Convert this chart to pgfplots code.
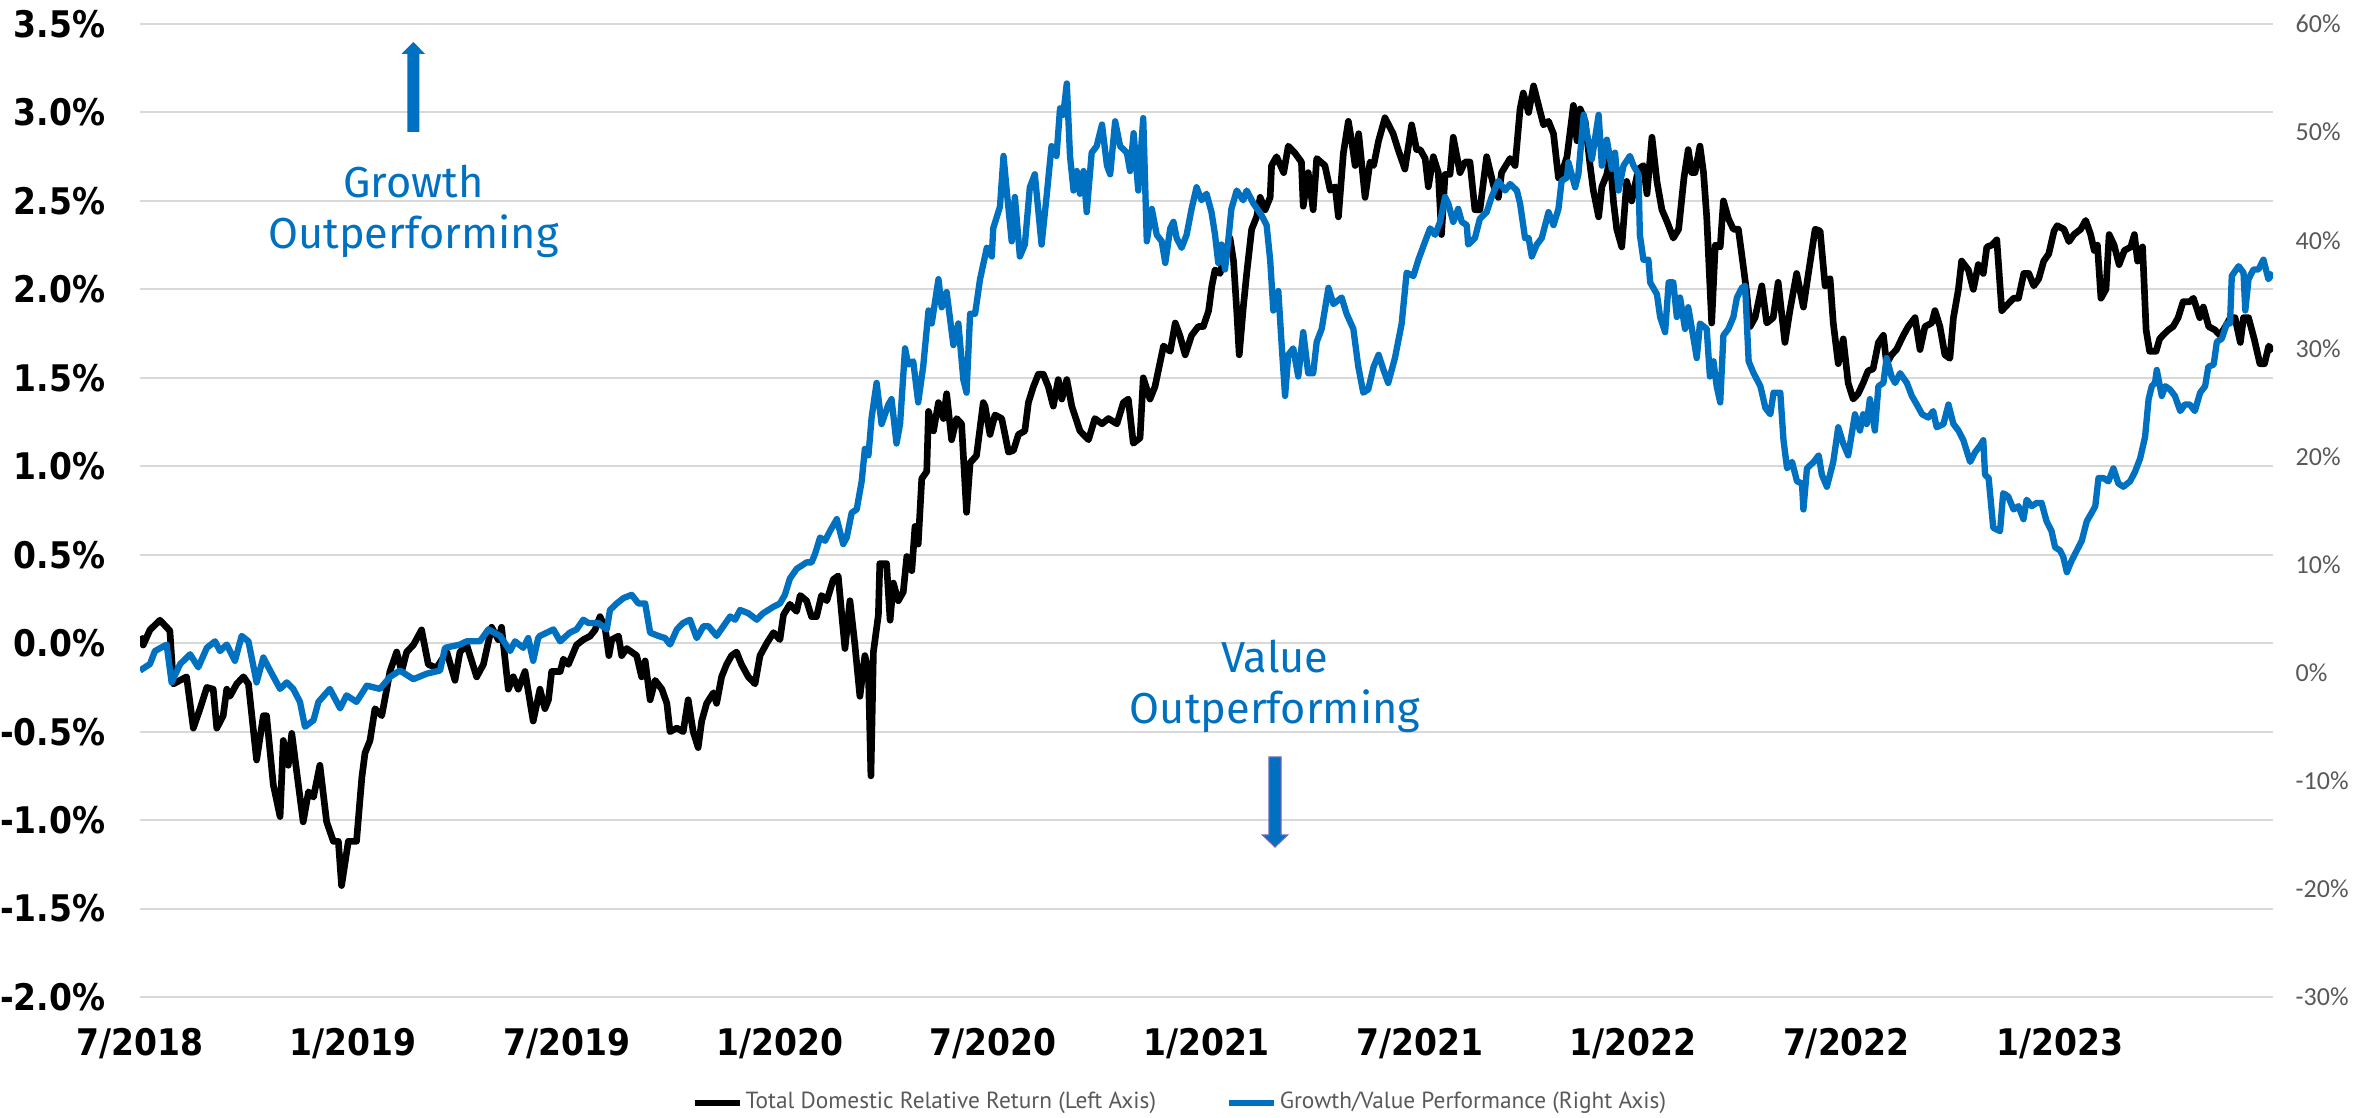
\documentclass[border=0pt]{standalone}
\usepackage{pgfplots}
\pgfplotsset{compat=1.18}
\usepackage{fontspec}
\setmainfont{DejaVu Sans}
\newfontfamily\tickfam{DejaVu Sans Condensed}
\newfontfamily\rightfam{Carlito}
\newfontfamily\legfam{PT Sans}
\newfontfamily\annfam{Fira Sans}
\definecolor{xlblue}{HTML}{0070C0}
\definecolor{gridgray}{HTML}{D9D9D9}
\definecolor{textgray}{HTML}{595959}
\definecolor{arrowedge}{HTML}{6E64B4}
\begin{document}
\begin{tikzpicture}
\path[use as bounding box] (-42pt,-36pt) rectangle (668.7pt,299.1pt);
\begin{axis}[
  at={(0pt,0pt)}, anchor=south west,
  scale only axis, width=639.9pt, height=291.9pt,
  xmin=0, xmax=60, ymin=-2, ymax=3.5,
  axis line style={draw=none},
  major tick length=0pt, tick style={draw=none},
  xtick={0,6,12,18,24,30,36,42,48,54},
  xticklabels={7/2018,1/2019,7/2019,1/2020,7/2020,1/2021,7/2021,1/2022,7/2022,1/2023},
  ytick={-2,-1.5,-1,-0.5,0,0.5,1,1.5,2,2.5,3,3.5},
  yticklabels={-2.0\%,-1.5\%,-1.0\%,-0.5\%,0.0\%,0.5\%,1.0\%,1.5\%,2.0\%,2.5\%,3.0\%,3.5\%},
  ymajorgrids,
  grid style={draw=gridgray, line width=0.6pt},
  yticklabel style={font={\tickfam\bfseries\fontsize{11}{13}\selectfont}, anchor=east, inner sep=0pt, xshift=-10.2pt},
  xticklabel style={font={\tickfam\bfseries\fontsize{11}{13}\selectfont}, anchor=north, inner sep=0pt, yshift=-9.3pt},
  legend style={at={(0.4876,-0.109)}, anchor=center, draw=none, fill=none,
    legend columns=2, font={\legfam\fontsize{7}{8}\selectfont}, text=textgray,
    nodes={inner sep=0.8pt},
    /tikz/every even column/.append style={column sep=20pt}},
  legend image code/.code={\draw[#1, line width=2pt] (0pt,0pt) -- (13.5pt,0pt);},
]
\addplot[black, line width=2pt, line join=round] coordinates {
(0,0.04) (0.09,-0.01) (0.28,0.075) (0.56,0.13) (0.75,0.09) (0.84,0.07) (0.94,-0.23) (1.31,-0.19) (1.50,-0.48) (1.69,-0.37) (1.88,-0.25) (2.06,-0.26) (2.16,-0.48) (2.34,-0.41) (2.44,-0.26) (2.53,-0.30) (2.72,-0.23) (2.91,-0.19) (3.05,-0.23) (3.28,-0.66) (3.47,-0.41) (3.56,-0.41) (3.75,-0.80) (3.94,-0.98) (4.03,-0.55) (4.17,-0.69) (4.27,-0.51) (4.41,-0.73) (4.59,-1.01) (4.74,-0.84) (4.88,-0.87) (5.06,-0.69) (5.25,-1.01) (5.44,-1.12) (5.58,-1.12) (5.67,-1.37) (5.86,-1.12) (6.09,-1.12) (6.24,-0.76) (6.33,-0.62) (6.47,-0.55) (6.61,-0.37) (6.80,-0.41) (6.94,-0.26) (7.03,-0.16) (7.22,-0.05) (7.36,-0.16) (7.50,-0.05) (7.69,-0.01) (7.92,0.075) (8.11,-0.12) (8.34,-0.14) (8.63,-0.05) (8.86,-0.21) (9.00,-0.05) (9.19,-0.01) (9.47,-0.19) (9.66,-0.12) (9.89,0.09) (10.08,0.02) (10.17,0.09) (10.36,-0.26) (10.50,-0.19) (10.64,-0.26) (10.83,-0.16) (11.06,-0.44)
(11.25,-0.26) (11.39,-0.37) (11.49,-0.32) (11.58,-0.16) (11.82,-0.16) (11.91,-0.09) (12.05,-0.12) (12.28,-0.01) (12.47,0.02) (12.66,0.04) (12.80,0.075) (12.94,0.15) (13.08,0.09) (13.19,-0.07) (13.27,0.02) (13.46,0.04) (13.55,-0.07) (13.69,-0.03) (13.97,-0.07) (14.11,-0.19) (14.21,-0.10) (14.35,-0.32) (14.49,-0.21) (14.68,-0.26) (14.82,-0.34) (14.91,-0.50) (15.10,-0.48) (15.28,-0.50) (15.42,-0.32) (15.56,-0.50) (15.70,-0.59) (15.80,-0.44) (15.94,-0.34) (16.13,-0.28) (16.22,-0.34) (16.36,-0.19) (16.50,-0.12) (16.64,-0.07) (16.78,-0.05) (16.92,-0.12) (17.11,-0.19) (17.30,-0.23) (17.44,-0.07) (17.63,0.00) (17.82,0.06) (18.00,0.02) (18.10,0.16) (18.28,0.22) (18.47,0.18) (18.57,0.27) (18.75,0.24) (18.89,0.15) (19.03,0.15) (19.17,0.27) (19.32,0.24) (19.50,0.36) (19.64,0.38) (19.74,0.16) (19.83,-0.03) (19.97,0.24) (20.11,-0.01) (20.25,-0.30) (20.39,-0.07) (20.49,-0.16) (20.56,-0.75) (20.63,-0.05) (20.77,0.16) (20.81,0.45) (21.00,0.45) (21.10,0.13) (21.19,0.34) (21.33,0.24) (21.47,0.29) (21.57,0.49) (21.71,0.41) (21.80,0.66) (21.89,0.56) (21.99,0.93) (22.13,0.97) (22.18,1.31) (22.32,1.20) (22.46,1.36) (22.60,1.27) (22.69,1.41) (22.83,1.15) (22.97,1.27) (23.11,1.24) (23.25,0.74) (23.35,1.02) (23.53,1.06) (23.72,1.36)
(23.77,1.34) (23.91,1.18) (24.05,1.29) (24.24,1.27) (24.43,1.08) (24.57,1.09) (24.71,1.18) (24.89,1.20) (24.99,1.36) (25.13,1.45) (25.27,1.52) (25.41,1.52) (25.55,1.45) (25.69,1.34) (25.83,1.49) (25.93,1.38) (26.07,1.49) (26.21,1.34) (26.44,1.20) (26.68,1.15) (26.86,1.27) (27.06,1.24) (27.24,1.27) (27.48,1.24) (27.66,1.36) (27.80,1.38) (27.94,1.13) (28.13,1.16) (28.22,1.50) (28.41,1.38) (28.55,1.45) (28.79,1.68) (28.98,1.65) (29.12,1.81) (29.25,1.74) (29.40,1.63) (29.58,1.74) (29.77,1.79) (29.91,1.79) (30.06,1.88) (30.15,2.02) (30.24,2.11) (30.38,2.09) (30.52,2.20) (30.66,2.29) (30.76,2.16) (30.85,1.88) (30.92,1.63) (31.04,1.91) (31.13,2.09) (31.27,2.34) (31.41,2.41) (31.51,2.52) (31.65,2.45) (31.79,2.52) (31.83,2.70) (31.97,2.75) (32.17,2.66) (32.30,2.81) (32.49,2.77) (32.67,2.72) (32.72,2.47) (32.86,2.66) (33.00,2.45) (33.10,2.74) (33.33,2.70) (33.48,2.56) (33.62,2.58) (33.71,2.41) (33.85,2.77) (33.99,2.95) (34.09,2.83) (34.18,2.70) (34.28,2.88) (34.46,2.52) (34.60,2.72) (34.70,2.70) (34.84,2.84) (35.02,2.97) (35.25,2.88) (35.39,2.79) (35.58,2.68) (35.77,2.93) (35.91,2.79)
(36.01,2.79) (36.15,2.74) (36.24,2.58) (36.38,2.75) (36.52,2.66) (36.61,2.31) (36.71,2.65) (36.85,2.65) (36.94,2.86) (37.13,2.66) (37.27,2.72) (37.41,2.72) (37.55,2.45) (37.69,2.45) (37.88,2.75) (38.07,2.59) (38.21,2.52) (38.30,2.66) (38.54,2.74) (38.68,2.70) (38.82,3.02) (38.91,3.11) (39.06,3.00) (39.20,3.15) (39.34,3.04) (39.48,2.93) (39.62,2.95) (39.76,2.88) (39.90,2.63) (39.95,2.63) (40.14,2.75) (40.32,3.04) (40.42,2.84) (40.51,3.02) (40.65,2.95) (40.79,2.70) (40.88,2.56) (41.03,2.41) (41.12,2.58) (41.26,2.65) (41.35,2.75) (41.45,2.49) (41.54,2.34) (41.68,2.24) (41.82,2.61) (41.96,2.50) (42.15,2.68) (42.29,2.70) (42.39,2.54) (42.53,2.86) (42.67,2.61) (42.81,2.45) (42.96,2.38) (43.13,2.29) (43.28,2.34) (43.43,2.63) (43.55,2.79) (43.65,2.66) (43.74,2.66) (43.88,2.81) (43.98,2.66) (44.07,2.41) (44.21,1.81) (44.31,2.25) (44.45,2.24) (44.54,2.50) (44.68,2.40) (44.82,2.34) (44.96,2.34) (45.10,2.13) (45.19,1.99) (45.29,1.79) (45.43,1.84) (45.62,2.02) (45.76,1.81) (45.94,1.84) (46.08,2.04) (46.27,1.70) (46.41,1.88) (46.60,2.09) (46.79,1.90) (46.93,2.09) (47.12,2.34) (47.26,2.33) (47.40,2.02) (47.54,2.06) (47.63,1.81) (47.77,1.58) (47.91,1.72) (48.05,1.47) (48.19,1.38) (48.33,1.41)
(48.47,1.47) (48.61,1.54) (48.75,1.55) (48.90,1.70) (49.04,1.74) (49.13,1.58) (49.27,1.63) (49.41,1.66) (49.60,1.74) (49.74,1.79) (49.93,1.84) (50.07,1.66) (50.21,1.79) (50.40,1.81) (50.49,1.88) (50.63,1.79) (50.77,1.63) (50.91,1.61) (51.01,1.84) (51.15,2.00) (51.24,2.16) (51.43,2.11) (51.57,2.00) (51.71,2.14) (51.85,2.09) (51.95,2.24) (52.09,2.25) (52.23,2.28) (52.37,1.88) (52.51,1.91) (52.70,1.95) (52.84,1.95) (52.99,2.09) (53.13,2.09) (53.27,2.02) (53.41,2.06) (53.55,2.16) (53.69,2.20) (53.84,2.33) (53.93,2.36) (54.12,2.34) (54.26,2.27) (54.40,2.31) (54.59,2.34) (54.73,2.39) (54.87,2.31) (54.97,2.22) (55.06,2.25) (55.16,1.95) (55.30,2.00) (55.39,2.31) (55.53,2.25) (55.67,2.14) (55.82,2.22) (56.00,2.24) (56.10,2.31) (56.19,2.16) (56.33,2.24) (56.43,1.77) (56.53,1.65) (56.71,1.65) (56.81,1.72) (56.90,1.74) (57.05,1.77) (57.19,1.79) (57.33,1.84) (57.47,1.93) (57.66,1.93) (57.76,1.95) (57.94,1.84) (58.04,1.90) (58.19,1.79) (58.37,1.77) (58.51,1.74) (58.66,1.79) (58.80,1.84) (58.93,1.84) (59.08,1.70) (59.17,1.84) (59.31,1.84) (59.47,1.72) (59.63,1.58) (59.76,1.58) (59.88,1.68) (60.00,1.65)
};
\addlegendentry{Total Domestic Relative Return (Left Axis)}
\addlegendimage{xlblue, line width=2pt}
\addlegendentry{Growth/Value Performance (Right Axis)}
\end{axis}
\begin{axis}[
  at={(0pt,0pt)}, anchor=south west,
  scale only axis, width=639.9pt, height=291.9pt,
  xmin=0, xmax=60, ymin=-30, ymax=60,
  hide x axis,
  axis y line*=right,
  axis line style={draw=none},
  major tick length=0pt, tick style={draw=none},
  ytick={-30,-20,-10,0,10,20,30,40,50,60},
  yticklabels={-30\%,-20\%,-10\%,0\%,10\%,20\%,30\%,40\%,50\%,60\%},
  yticklabel style={font={\rightfam\fontsize{7.8}{9}\selectfont}, text=textgray, anchor=west, inner sep=0pt, xshift=6.6pt},
]
\addplot[xlblue, line width=1.9pt, line join=round] coordinates {
(0,0.2) (0.28,0.8) (0.42,2.0) (0.75,2.6) (0.89,-0.9) (1.13,0.8) (1.41,1.7) (1.64,0.5) (1.88,2.3) (2.11,2.9) (2.25,2.0) (2.44,2.6) (2.67,1.1) (2.86,3.4) (3.05,2.9) (3.28,-0.9) (3.47,1.4) (3.66,0.2) (3.94,-1.5) (4.13,-0.9) (4.31,-1.5) (4.50,-2.7) (4.64,-5.0) (4.88,-4.4) (5.02,-2.7) (5.34,-1.5) (5.63,-3.3) (5.81,-2.1) (6.09,-2.7) (6.38,-1.2) (6.75,-1.5) (7.03,-0.4) (7.31,0.2) (7.69,-0.6) (8.06,-0.1) (8.44,0.2) (8.58,2.3) (9.00,2.6) (9.19,2.9) (9.56,2.9) (9.80,4.0) (10.13,3.4) (10.41,2.0) (10.55,2.9) (10.78,2.3) (10.92,3.2) (11.06,1.1) (11.20,3.2)
(11.25,3.4) (11.63,4.0) (11.82,2.9) (12.09,3.7) (12.28,4.0) (12.47,4.9) (12.61,4.6) (12.89,4.6) (13.13,4.0) (13.22,5.8) (13.41,6.4) (13.60,6.9) (13.83,7.2) (14.02,6.4) (14.21,6.4) (14.35,3.7) (14.58,3.4) (14.77,3.2) (14.91,2.6) (15.10,4.0) (15.28,4.6) (15.47,4.9) (15.66,3.2) (15.85,4.3) (15.99,4.3) (16.22,3.4) (16.60,5.2) (16.74,4.9) (16.88,5.8) (17.11,5.5) (17.35,4.9) (17.53,5.5) (17.82,6.1) (18.00,6.4) (18.14,7.2) (18.28,8.7) (18.47,9.6) (18.75,10.2) (18.89,10.2) (18.99,11.0) (19.13,12.5) (19.27,12.2) (19.41,13.1) (19.60,14.2) (19.78,11.9) (19.88,12.5) (20.02,14.8) (20.16,15.1) (20.30,17.7) (20.39,20.7) (20.49,20.1) (20.58,23.6) (20.72,26.8) (20.86,23.0) (21.05,24.8) (21.14,25.3) (21.28,21.2) (21.38,23.0) (21.52,30.0) (21.61,28.5) (21.75,28.8) (21.89,25.0) (22.03,28.3) (22.18,33.5) (22.27,32.3) (22.46,36.4) (22.55,33.8) (22.69,35.2) (22.88,30.3) (23.02,32.3) (23.16,27.1) (23.25,25.9) (23.35,33.2) (23.49,33.2) (23.63,36.4) (23.82,39.3)
(23.96,38.5) (24.00,41.1) (24.19,43.1) (24.29,47.8) (24.38,44.6) (24.52,39.9) (24.61,44.0) (24.75,38.5) (24.89,39.6) (25.03,44.9) (25.17,46.1) (25.36,39.6) (25.50,44.0) (25.64,48.7) (25.78,47.8) (25.88,52.2) (25.97,51.6) (26.07,54.5) (26.16,47.8) (26.26,44.6) (26.35,46.4) (26.44,44.3) (26.54,46.4) (26.63,42.6) (26.77,48.1) (26.91,48.7) (27.06,50.7) (27.20,46.9) (27.29,46.1) (27.43,51.0) (27.57,48.7) (27.76,48.1) (27.85,46.4) (27.95,49.9) (28.08,44.6) (28.22,51.3) (28.32,39.9) (28.46,42.9) (28.60,40.5) (28.74,39.9) (28.84,37.9) (28.98,41.1) (29.07,41.7) (29.16,40.2) (29.30,39.3) (29.44,40.5) (29.58,42.9) (29.72,44.9) (29.86,43.7) (30.00,44.3) (30.14,42.6) (30.24,40.5) (30.33,37.9) (30.42,39.6) (30.52,37.3) (30.61,39.9) (30.70,42.9) (30.85,44.6) (31.03,43.7) (31.13,44.6) (31.32,43.4) (31.55,42.3) (31.69,41.4) (31.79,38.2) (31.88,33.5) (32.02,35.3) (32.12,30.0) (32.21,25.6) (32.30,29.4) (32.44,30.0) (32.58,27.4) (32.72,31.5) (32.86,27.7) (33.00,27.7) (33.10,30.6) (33.24,31.8) (33.43,35.6) (33.57,34.1) (33.80,34.7) (33.94,33.2) (34.13,31.8) (34.27,28.3) (34.41,25.9) (34.55,26.2) (34.70,28.3) (34.84,29.4) (34.98,28.0) (35.11,26.8) (35.30,29.1) (35.49,32.3) (35.63,37.0) (35.82,36.7) (35.96,38.2)
(36.15,39.9) (36.29,41.1) (36.43,40.5) (36.57,41.7) (36.71,44.0) (36.80,43.4) (36.94,41.7) (37.08,42.9) (37.18,41.7) (37.32,41.4) (37.36,39.6) (37.55,40.2) (37.69,42.0) (37.88,42.6) (38.02,44.0) (38.21,45.5) (38.40,44.6) (38.54,45.2) (38.73,44.6) (38.82,43.4) (38.96,40.2) (39.06,40.2) (39.15,38.5) (39.29,39.6) (39.43,40.2) (39.62,42.6) (39.76,41.4) (39.90,42.9) (39.99,45.5) (40.14,45.8) (40.18,47.2) (40.37,44.9) (40.46,46.1) (40.61,51.6) (40.70,49.9) (40.84,47.5) (41.03,51.6) (41.12,46.9) (41.26,49.3) (41.40,46.6) (41.49,48.1) (41.59,44.6) (41.73,46.9) (41.91,47.8) (42.01,46.9) (42.15,46.1) (42.19,40.5) (42.29,38.2) (42.43,38.2) (42.48,36.1) (42.67,35.0) (42.76,32.9) (42.90,31.5) (43.00,36.1) (43.13,36.1) (43.23,32.9) (43.32,34.7) (43.46,31.8) (43.55,33.8) (43.70,30.9) (43.79,29.1) (43.88,32.3) (44.07,31.8) (44.16,27.4) (44.26,28.8) (44.35,26.5) (44.45,25.0) (44.54,31.2) (44.68,31.8) (44.82,32.9) (44.92,34.7) (45.06,35.6) (45.15,35.8) (45.25,28.8) (45.39,27.7) (45.58,26.5) (45.72,24.5) (45.86,23.9) (45.95,25.9) (46.14,25.9) (46.23,21.5) (46.33,18.9) (46.47,19.5) (46.61,17.7) (46.75,17.5) (46.79,15.1) (46.89,18.9) (47.08,19.5) (47.22,20.1) (47.31,18.3) (47.45,17.2) (47.63,19.5) (47.77,22.7) (47.91,21.2) (48.05,20.1) (48.24,23.9) (48.38,22.4)
(48.47,23.9) (48.57,23.0) (48.66,25.3) (48.80,22.4) (48.90,26.5) (49.04,26.8) (49.13,29.1) (49.27,27.4) (49.37,26.8) (49.51,27.7) (49.70,26.8) (49.84,25.6) (49.98,24.8) (50.13,23.9) (50.30,23.6) (50.44,24.2) (50.54,22.7) (50.73,23.0) (50.87,24.8) (51.01,23.0) (51.15,22.4) (51.29,21.5) (51.48,19.5) (51.62,20.4) (51.76,21.0) (51.85,21.5) (51.90,18.3) (52.00,18.0) (52.13,13.4) (52.32,13.1) (52.41,16.6) (52.55,16.3) (52.70,15.1) (52.84,15.4) (52.98,14.2) (53.07,16.0) (53.21,15.4) (53.35,15.7) (53.49,15.7) (53.63,14.0) (53.77,13.1) (53.87,11.6) (54.01,11.3) (54.10,10.7) (54.20,9.3) (54.34,10.4) (54.48,11.3) (54.62,12.2) (54.76,14.0) (54.90,14.8) (55.00,15.4) (55.09,18.0) (55.23,18.0) (55.37,17.7) (55.51,18.9) (55.65,17.5) (55.79,17.2) (55.98,17.7) (56.12,18.6) (56.26,19.8) (56.40,21.8) (56.50,25.3) (56.59,26.5) (56.68,26.8) (56.73,28.0) (56.87,25.6) (56.97,26.5) (57.10,26.2) (57.24,25.6) (57.39,24.2) (57.52,24.8) (57.66,24.8) (57.80,24.2) (57.95,25.9) (58.09,26.5) (58.18,28.3) (58.33,28.5) (58.42,30.6) (58.56,30.9) (58.70,32.3) (58.79,32.3) (58.84,36.7) (59.03,37.6) (59.17,37.0) (59.22,33.5) (59.31,36.4) (59.45,37.3) (59.59,37.3) (59.73,38.2) (59.87,36.4) (60.00,37.0)
};
\end{axis}
% annotations
\node[anchor=base, text=xlblue, font={\annfam\fontsize{13}{15}\selectfont}, inner sep=0pt] at (82pt,240pt) {Growth};
\node[anchor=base, text=xlblue, font={\annfam\fontsize{13}{15}\selectfont}, inner sep=0pt] at (82pt,224.7pt) {Outperforming};
\fill[xlblue] (80.2pt,259.5pt) -- (80.2pt,282.9pt) -- (78.45pt,282.9pt) -- (82pt,286.5pt) -- (85.55pt,282.9pt) -- (83.8pt,282.9pt) -- (83.8pt,259.5pt) -- cycle;
\node[anchor=base, text=xlblue, font={\annfam\fontsize{13}{15}\selectfont}, inner sep=0pt] at (340.5pt,97.5pt) {Value};
\node[anchor=base, text=xlblue, font={\annfam\fontsize{13}{15}\selectfont}, inner sep=0pt] at (340.5pt,82.2pt) {Outperforming};
\filldraw[fill=xlblue, draw=arrowedge, line width=0.35pt] (338.7pt,72pt) -- (338.7pt,48.6pt) -- (336.75pt,48.6pt) -- (340.5pt,45pt) -- (344.25pt,48.6pt) -- (342.3pt,48.6pt) -- (342.3pt,72pt) -- cycle;
\end{tikzpicture}
\end{document}
